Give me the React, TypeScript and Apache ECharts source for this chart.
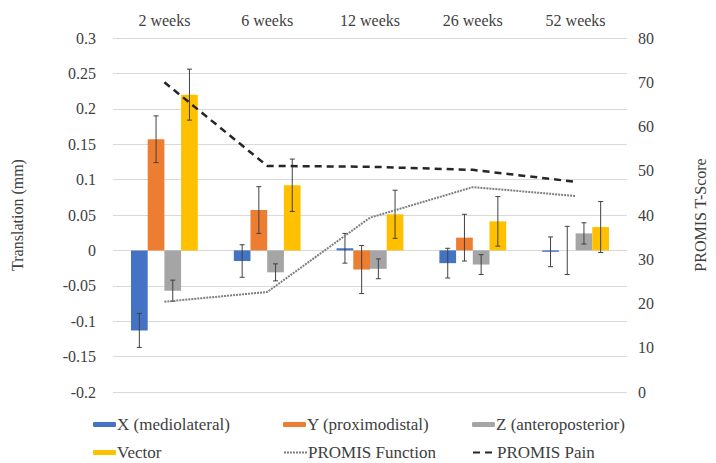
import React, { useEffect, useRef } from "react";
import * as echarts from "echarts";

const categories = ["2 weeks", "6 weeks", "12 weeks", "26 weeks", "52 weeks"];
const xMedio = [-0.113, -0.015, 0.003, -0.018, -0.002];
const xMedioErr = [0.024, 0.023, 0.021, 0.021, 0.021];
const yProx = [0.157, 0.057, -0.027, 0.018, 0.0];
const yProxErr = [0.033, 0.033, 0.034, 0.033, 0.034];
const zAnt = [-0.057, -0.031, -0.026, -0.02, 0.024];
const zAntErr = [0.015, 0.012, 0.014, 0.014, 0.015];
const vector = [0.22, 0.092, 0.051, 0.041, 0.033];
const vectorErr = [0.036, 0.037, 0.034, 0.035, 0.036];
const promisFunction = [20.4, 22.6, 39.4, 46.3, 44.3];
const promisPain = [70.0, 51.1, 50.9, 50.2, 47.5];

const barNames = ["X (mediolateral)", "Y (proximodistal)", "Z (anteroposterior)", "Vector"];
const barColors = ["#4472C4", "#ED7D31", "#A5A5A5", "#FFC000"];

const FONT = "Liberation Serif";
const TXT = "#404040";
const FS = 16;
const LFS = 17;

export default function App() {
  const ref = useRef<HTMLDivElement>(null);
  useEffect(() => {
    if (!ref.current) return;
    const chart = echarts.init(ref.current, undefined, { renderer: "svg" });
    const barVals = [xMedio, yProx, zAnt, vector];
    const barErrs = [xMedioErr, yProxErr, zAntErr, vectorErr];
    const errData: number[][] = [];
    barVals.forEach((vals, s) => {
      vals.forEach((v, i) => {
        errData.push([i, s, v - barErrs[s][i], v + barErrs[s][i]]);
      });
    });
    const legendPos: [string, number, number, boolean][] = [
      [barNames[0], 93, 416, false],
      [barNames[1], 283, 416, false],
      [barNames[2], 472, 416, false],
      [barNames[3], 93, 444, false],
      ["PROMIS Function", 283, 444, true],
      ["PROMIS Pain", 472, 444, true],
    ];
    const option: any = {
      animation: false,
      backgroundColor: "#ffffff",
      textStyle: { fontFamily: FONT },
      grid: { left: 113, right: 84, top: 38, bottom: 71 },
      legend: legendPos.map(([name, left, top, isLine]) => ({
        data: [name],
        left,
        top,
        itemWidth: 23,
        itemHeight: 5,
        itemGap: 2,
        padding: 0,
        ...(isLine ? { itemStyle: { color: "rgba(0,0,0,0)", borderWidth: 0 } } : {}),
        textStyle: { fontFamily: FONT, fontSize: LFS, color: TXT, padding: [0, 0, 0, -4] },
      })),
      xAxis: {
        type: "category",
        data: categories,
        position: "top",
        axisLine: { show: false },
        axisTick: { show: false },
        axisLabel: { fontFamily: FONT, fontSize: FS, color: TXT, margin: 10 },
      },
      yAxis: [
        {
          type: "value",
          min: -0.2,
          max: 0.3,
          interval: 0.05,
          name: "Translation (mm)",
          nameLocation: "middle",
          nameRotate: 90,
          nameGap: 88,
          nameTextStyle: { fontFamily: FONT, fontSize: FS, color: TXT },
          axisLine: { show: false },
          axisTick: { show: false },
          axisLabel: {
            fontFamily: FONT,
            fontSize: FS,
            color: TXT,
            margin: 17,
            formatter: (v: number) => String(+v.toFixed(2)),
          },
          splitLine: { lineStyle: { color: "#D9D9D9", width: 1 } },
        },
        {
          type: "value",
          min: 0,
          max: 80,
          interval: 10,
          name: "PROMIS T-Score",
          nameLocation: "middle",
          nameRotate: 90,
          nameGap: 65,
          nameTextStyle: { fontFamily: FONT, fontSize: FS, color: TXT },
          axisLine: { show: false },
          axisTick: { show: false },
          axisLabel: { fontFamily: FONT, fontSize: FS, color: TXT, margin: 11 },
          splitLine: { show: false },
        },
      ],
      series: [
        ...barVals.map((vals, s) => ({
          name: barNames[s],
          type: "bar",
          data: vals,
          yAxisIndex: 0,
          barGap: "0%",
          barCategoryGap: "35%",
          itemStyle: { color: barColors[s] },
          z: 2,
        })),
        {
          name: "errors",
          type: "custom",
          yAxisIndex: 0,
          data: errData,
          encode: { x: 0, y: [2, 3] },
          z: 3,
          renderItem: (params: any, api: any) => {
            const ci = api.value(0);
            const s = api.value(1);
            const lo = api.coord([ci, api.value(2)]);
            const hi = api.coord([ci, api.value(3)]);
            const catW = api.size([1, 0])[0];
            const barW = (catW * 0.65) / 4;
            const cx = lo[0] + (s - 1.5) * barW;
            const cap = 2.5;
            const style = { stroke: "#404040", lineWidth: 1 };
            return {
              type: "group",
              children: [
                { type: "line", shape: { x1: cx, y1: lo[1], x2: cx, y2: hi[1] }, style },
                { type: "line", shape: { x1: cx - cap, y1: lo[1], x2: cx + cap, y2: lo[1] }, style },
                { type: "line", shape: { x1: cx - cap, y1: hi[1], x2: cx + cap, y2: hi[1] }, style },
              ],
            };
          },
        },
        {
          name: "PROMIS Function",
          type: "line",
          yAxisIndex: 1,
          data: promisFunction,
          symbol: "none",
          itemStyle: { color: "#7F7F7F" },
          lineStyle: { color: "#7F7F7F", width: 2, type: [2, 1] },
          z: 4,
        },
        {
          name: "PROMIS Pain",
          type: "line",
          yAxisIndex: 1,
          data: promisPain,
          symbol: "none",
          itemStyle: { color: "#262626" },
          lineStyle: { color: "#262626", width: 2.5, type: [7, 5] },
          z: 5,
        },
      ],
    };
    chart.setOption(option);
    return () => chart.dispose();
  }, []);
  return (
    <div
      ref={ref}
      style={{ position: "fixed", left: 0, top: 0, width: 716, height: 463, background: "#fff" }}
    />
  );
}
